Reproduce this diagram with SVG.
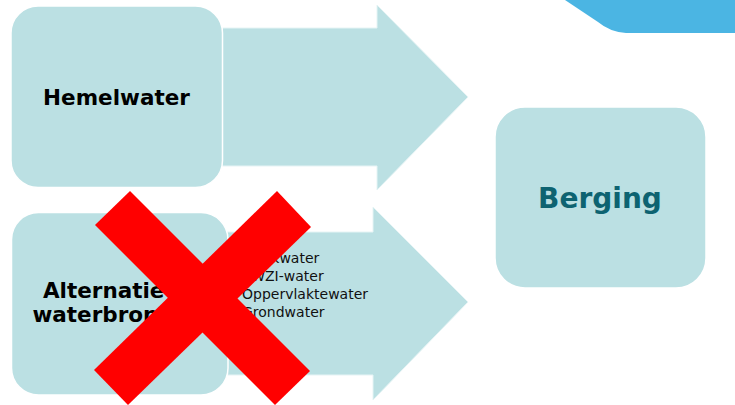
<svg xmlns="http://www.w3.org/2000/svg" width="735" height="405" viewBox="0 0 735 405">
  <style>
    .box { fill: #bbe0e3; stroke: #ffffff; stroke-width: 1.5; }
    .arrow { fill: #bbe0e3; stroke: #e6f4f5; stroke-width: 1; }
    .title { font-family: "DejaVu Sans", Verdana, sans-serif; font-weight: bold; font-size: 21.5px; fill: #000000; text-anchor: middle; }
    .berg { font-family: "DejaVu Sans", Verdana, sans-serif; font-weight: bold; font-size: 28px; fill: #0d6371; text-anchor: middle; }
    .list { font-family: "DejaVu Sans", Verdana, sans-serif; font-size: 14px; fill: #111111; }
    .cross { fill: #ff0000; }
  </style>
  <rect width="735" height="405" fill="#ffffff"/>
  <path d="M565,0 L598,22 Q610,32 626,33 L735,33 L735,0 Z" fill="#4bb5e3"/>

  <g id="connectors">
    <path class="arrow" d="M215,28 L377,28 L377,5 L468,97 L377,190 L377,166 L215,166 Z"/>
    <path class="arrow" d="M215,232 L373,232 L373,207 L468,302 L373,400 L373,375 L215,375 Z"/>
    <g class="list">
      <text x="242" y="262.5">Drinkwater</text>
      <text x="242" y="280.5">RWZI-water</text>
      <text x="242" y="298.5">Oppervlaktewater</text>
      <text x="242" y="316.5">Grondwater</text>
    </g>
  </g>

  <g id="hemelwater">
    <rect class="box" x="11" y="6" width="211.5" height="181.5" rx="27"/>
    <text class="title" x="116.5" y="105">Hemelwater</text>
  </g>

  <g id="alternatieve-waterbronnen">
    <rect class="box" x="11.5" y="212.5" width="216.5" height="182.5" rx="27"/>
    <text class="title" x="118" y="297.5">Alternatieve</text>
    <text class="title" x="118" y="321.5">waterbronnen</text>
  </g>

  <g id="berging">
    <rect class="box" x="495" y="107" width="211" height="181" rx="30"/>
    <text class="berg" x="600" y="208">Berging</text>
  </g>

  <g id="cross">
    <polygon class="cross" points="130,191 95,225 275,405 310,371"/>
    <polygon class="cross" points="277,191 311,227 128,405 94,370"/>
  </g>
</svg>
